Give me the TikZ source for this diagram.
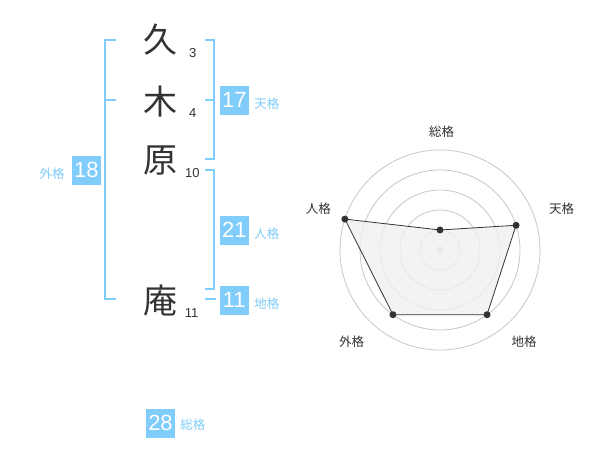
\documentclass[tikz,border=0pt]{standalone}
\usepackage{fontspec}
\setmainfont{Liberation Sans}
\newfontfamily\jpfont{Noto Sans CJK JP}
\usetikzlibrary{positioning}
\definecolor{kakublue}{RGB}{128,204,250}
\definecolor{inkgray}{RGB}{51,51,51}
\tikzset{
  kanji/.style={font=\jpfont\fontsize{34}{34}\selectfont, text=inkgray, inner sep=0pt},
  strokes/.style={font=\fontsize{13}{13}\selectfont, text=inkgray, inner sep=0pt},
  kakubox/.style={fill=kakublue, text=white, minimum size=28.7pt, inner sep=0pt, font=\fontsize{22}{22}\selectfont},
  kakuname/.style={font=\jpfont\fontsize{12.5}{12.5}\selectfont, text=kakublue, inner sep=0pt},
  bracket/.style={draw=kakublue, line width=2pt},
  ring/.style={draw=black!22, line width=0.8pt},
  axisname/.style={font=\jpfont\fontsize{12.5}{12.5}\selectfont, text=inkgray, inner sep=0pt},
  dot/.style={circle, fill=inkgray, inner sep=0pt, minimum size=7pt}
}

\begin{document}
\begin{tikzpicture}[x=1pt,y=-1pt]
\useasboundingbox[fill=white] (0,0) rectangle (600,470);

% name
\node[kanji] (ku) at (160,39.5) {久};
\node[kanji] (ki) at (160,102) {木};
\node[kanji] (hara) at (160,161) {原};
\node[kanji] (an) at (160,301) {庵};
\node[strokes] (s1) at (192.7,53.3) {3};
\node[strokes] (s2) at (192.7,113.3) {4};
\node[strokes] (s3) at (192.3,173.3) {10};
\node[strokes] (s4) at (191.7,313.3) {11};

% brackets
\draw[bracket] (116,40) -- (105,40) -- (105,299.3) -- (116,299.3);
\draw[bracket] (105,100) -- (116,100);
\draw[bracket] (205,40) -- (214.3,40) -- (214.3,159.3) -- (205,159.3);
\draw[bracket] (205,100) -- (214.3,100);
\draw[bracket] (205,170) -- (214.3,170) -- (214.3,289.3) -- (205,289.3);
\draw[bracket] (205,299.3) -- (215.7,299.3);

% boxes
\node[kakubox] (gai) at (86.3,170.3) {18};
\node[kakubox] (ten) at (234.3,100.3) {17};
\node[kakubox] (jin) at (234.3,230.3) {21};
\node[kakubox] (chi) at (234.3,300.3) {11};
\node[kakubox] (sou) at (160.5,423.3) {28};
\node[kakuname, left=7pt of gai, yshift=-3.5pt] (gain) {外格};
\node[kakuname, right=5.3pt of ten, yshift=-3.5pt] (tenn) {天格};
\node[kakuname, right=5.3pt of jin, yshift=-3.5pt] (jinn) {人格};
\node[kakuname, right=5.3pt of chi, yshift=-3.5pt] (chin) {地格};
\node[kakuname, right=5pt of sou, yshift=-1pt] (soun) {総格};

% radar
\coordinate (radar) at (440,250);
\foreach \r in {20,40,...,100}
  \draw[ring] (radar) circle[radius=\r];
\fill[black!20] (radar) circle[radius=3.5];
\foreach \name/\ang/\val/\lx/\ly [count=\i] in
    {総格/-90/1/441.7/131.7, 天格/-18/4/561.7/209, 地格/54/4/524/341.7,
     外格/126/4/351.7/341.7, 人格/-162/5/318.3/209}{
  \coordinate (p\i) at ([shift={(\ang:{\val*20})}]radar);
  \node[axisname] (a\i) at (\lx,\ly) {\name};
}
\draw[draw=inkgray, fill=black!6, fill opacity=0.8, line width=0.8pt]
  (p1) -- (p2) -- (p3) -- (p4) -- (p5) -- cycle;
\foreach \i in {1,...,5}
  \node[dot] (d\i) at (p\i) {};

\end{tikzpicture}
\end{document}
